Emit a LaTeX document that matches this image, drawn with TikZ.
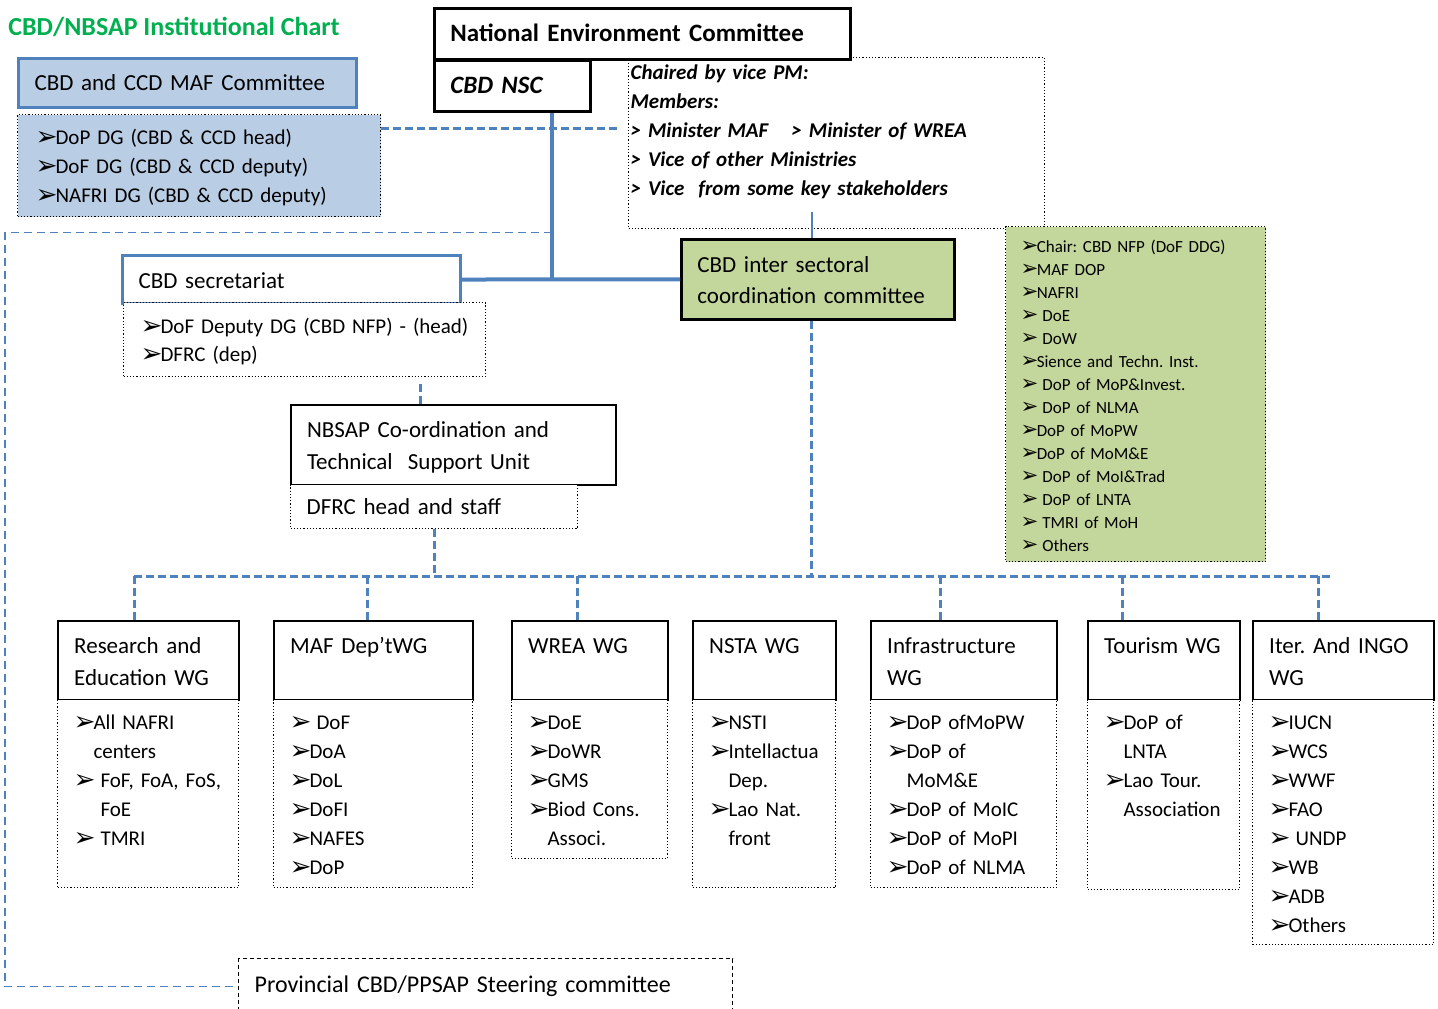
\documentclass[tikz,border=0pt]{standalone}
\usepackage{fontspec}
\setmainfont{Carlito}
\newfontfamily\arrfont{DejaVu Sans}
\usepackage{graphicx}
\usetikzlibrary{calc}
\definecolor{blueline}{RGB}{79,129,189}
\definecolor{lightblue}{RGB}{185,205,229}
\definecolor{lightgreen}{RGB}{195,214,155}
\definecolor{titlegreen}{RGB}{0,176,80}
\frenchspacing
\newcommand\mainfs{\fontsize{11.5}{16}\selectfont}
\newcommand\midfs{\fontsize{11}{14.5}\selectfont}
\newcommand\listfs{\fontsize{10.5}{14.5}\selectfont}
\newcommand\smallfs{\fontsize{8.5}{11.5}\selectfont}
\newcommand\bul{\makebox[0.95em][l]{\arrfont\raisebox{-0.05em}{\scalebox{1.25}{➢}}}}
\newcommand\cnt{\hspace*{0.95em}}
\tikzset{
  hdr/.style={anchor=north west, align=left, inner ysep=0pt, inner xsep=8pt, font=\mainfs},
  thickbox/.style={draw=black, line width=1.4pt, fill=white},
  lstbox/.style={anchor=north west, align=left, inner ysep=0pt, inner xsep=8pt, draw=black, densely dotted, line width=0.6pt, fill=white},
  wghead/.style={hdr, thickbox, line width=1.2pt, text height=16pt, text depth=23.5pt},
  wglist/.style={lstbox, font=\listfs, text height=15pt, text depth=79pt},
  mainline/.style={draw=blueline, line width=2pt},
  busline/.style={draw=blueline, line width=1.5pt, dash pattern=on 4pt off 2pt},
  loopline/.style={draw=blueline, line width=0.6pt, dash pattern=on 4pt off 2.5pt},
  linkline/.style={draw=blueline, line width=1pt}
}
\begin{document}
\begin{tikzpicture}[x=0.5pt, y=-0.5pt]
  \useasboundingbox (0,0) rectangle (1438,1008);

  % top left
  \node[anchor=west, inner sep=0pt, text=titlegreen, font=\fontsize{13}{15}\selectfont\bfseries] (title) at (8,27) {CBD/NBSAP Institutional Chart};
  \node[hdr, draw=blueline, line width=1.5pt, fill=lightblue, text width=153pt, text height=16pt, text depth=8.5pt] (mafcom) at (17,57) {CBD and CCD MAF Committee};
  \node[lstbox, fill=lightblue, font=\fontsize{10.5}{14.5}\selectfont, inner xsep=9pt, text width=163.5pt, text height=15pt, text depth=36pt] (maflist) at (17,114) {\bul DoP DG (CBD \& CCD head)\\\bul DoF DG (CBD \& CCD deputy)\\\bul NAFRI DG (CBD \& CCD deputy)};

  % national level
  \node[lstbox, font=\fontsize{10.5}{14.5}\selectfont\bfseries\itshape, inner xsep=1pt, text width=206pt, text height=11pt, text depth=74.5pt] (members) at (628,57) {Chaired by vice PM:\\Members:\\> Minister MAF\hspace{1.1em}> Minister of WREA\\> Vice of other Ministries\\> Vice\ \ from some key stakeholders};
  \node[hdr, thickbox, font=\fontsize{12.5}{16}\selectfont\bfseries, text width=192pt, text height=16.5pt, text depth=9pt] (nec) at (433,7) {National Environment Committee};
  \node[hdr, thickbox, font=\fontsize{12.5}{16}\selectfont\bfseries\itshape, text width=62pt, text height=16.5pt, text depth=9pt] (nsc) at (433,59) {CBD NSC};

  % secretariat and coordination
  \node[hdr, draw=blueline, line width=1.5pt, fill=white, text width=153pt, text height=16.5pt, text depth=7.5pt] (sec) at (121,254) {CBD secretariat};
  \node[lstbox, font=\fontsize{10.5}{14}\selectfont, inner xsep=8.5pt, text width=164pt, text height=15.5pt, text depth=21.5pt] (seclist) at (123,302) {\bul DoF Deputy DG (CBD NFP) - (head)\\\bul DFRC (dep)};
  \node[hdr, thickbox, fill=lightgreen, font=\fontsize{11.5}{15.5}\selectfont, text width=120.5pt, text height=16.5pt, text depth=23.5pt] (isc) at (680,238) {CBD inter sectoral\\coordination committee};
  \node[lstbox, fill=lightgreen, font=\smallfs, inner xsep=7.5pt, text width=115pt, text height=12.75pt, text depth=154.75pt] (isclist) at (1005,226) {\bul Chair: CBD NFP (DoF DDG)\\\bul MAF DOP\\\bul NAFRI\\\bul\ DoE\\\bul\ DoW\\\bul Sience and Techn. Inst.\\\bul\ DoP of MoP\&Invest.\\\bul\ DoP of NLMA\\\bul DoP of MoPW\\\bul DoP of MoM\&E\\\bul\ DoP of MoI\&Trad\\\bul\ DoP of LNTA\\\bul\ TMRI of MoH\\\bul\ Others};
  \node[hdr, draw=black, line width=1pt, fill=white, text width=146.5pt, text height=16pt, text depth=24pt] (nbsap) at (290,404) {NBSAP Co-ordination and\\Technical\ \ Support Unit};
  \node[lstbox, font=\mainfs, text width=127.5pt, text height=15pt, text depth=7pt] (dfrc) at (290,484) {DFRC head and staff};

  % working groups
  \node[wghead, text width=74.5pt] (res) at (57,620) {Research and\\Education WG};
  \node[wglist, text width=74.5pt] (reslist) at (57,699) {\bul All NAFRI\\\cnt centers\\\bul\ FoF, FoA, FoS,\\\cnt\ FoE\\\bul\ TMRI};
  \node[wghead, text width=83.5pt] (mafwg) at (273,620) {MAF Dep’tWG};
  \node[wglist, text width=83.5pt] (mafwglist) at (273,699) {\bul\ DoF\\\bul DoA\\\bul DoL\\\bul DoFI\\\bul NAFES\\\bul DoP};
  \node[wghead, text width=62pt] (wrea) at (511,620) {WREA WG};
  \node[wglist, text width=62pt, text depth=64.5pt] (wrealist) at (511,699) {\bul DoE\\\bul DoWR\\\bul GMS\\\bul Biod Cons.\\\cnt Associ.};
  \node[wghead, text width=55.5pt] (nsta) at (692,620) {NSTA WG};
  \node[wglist, text width=55.5pt] (nstalist) at (692,699) {\bul NSTI\\\bul Intellactua\\\cnt Dep.\\\bul Lao Nat.\\\cnt front};
  \node[wghead, text width=77pt] (infra) at (870,620) {Infrastructure\\WG};
  \node[wglist, text width=77pt] (infralist) at (870,699) {\bul DoP ofMoPW\\\bul DoP of\\\cnt MoM\&E\\\bul DoP of MoIC\\\bul DoP of MoPI\\\bul DoP of NLMA};
  \node[wghead, text width=60pt] (tour) at (1087,620) {Tourism WG};
  \node[wglist, text width=60pt, text depth=80pt] (tourlist) at (1087,699) {\bul DoP of\\\cnt LNTA\\\bul Lao Tour.\\\cnt Association};
  \node[wghead, text width=74.5pt] (iter) at (1252,620) {Iter. And INGO\\WG};
  \node[wglist, text width=74.5pt, text depth=107.5pt] (iterlist) at (1252,699) {\bul IUCN\\\bul WCS\\\bul WWF\\\bul FAO\\\bul\ UNDP\\\bul WB\\\bul ADB\\\bul Others};

  % provincial level
  \node[hdr, draw=black, line width=0.6pt, dash pattern=on 2pt off 1.5pt, fill=white, font=\fontsize{12}{16}\selectfont, text width=231pt, text height=17pt, text depth=11pt] (prov) at (238,958) {Provincial CBD/PPSAP Steering committee};

  % connectors
  \coordinate (trunk) at ($(nsc.south west)!0.75!(nsc.south east)$);
  \draw[mainline] (trunk) -- (trunk |- sec.east);
  \draw[mainline] (sec.east) -- (isc.west);
  \coordinate (mafout) at ($(maflist.north east)+(0,14)$);
  \draw[busline] (mafout) -- ($(members.west |- mafout)+(-10,0)$);
  \coordinate (isctop) at ($(isc.north)+(-6,0)$);
  \draw[linkline] (isctop) -- ++(0,-26);
  \coordinate (loopstart) at ($(trunk)+(0,120)$);
  \coordinate (leftedge) at (5,0);
  \draw[loopline] (loopstart) -- (loopstart -| leftedge) |- (prov.west);
  \coordinate (nbtop) at ($(nbsap.north west)!0.4!(nbsap.north east)$);
  \draw[busline] (nbtop) -- ($(nbtop |- seclist.south)+(0,4)$);

  % bus to working groups
  \coordinate (busL) at (134,576);
  \coordinate (busR) at (1330,576);
  \draw[busline] (busL) -- (busR);
  \draw[busline] (dfrc.south) -- (dfrc.south |- busL);
  \coordinate (iscbot) at ($(isc.south)+(-6,0)$);
  \draw[busline] (iscbot) -- (iscbot |- busL);
  \foreach \wg/\f in {res/0.425, mafwg/0.47, wrea/0.42, infra/0.376, tour/0.23, iter/0.36}
    \draw[busline] ($(\wg.north west)!\f!(\wg.north east)$) coordinate (drop) -- (drop |- busL);
\end{tikzpicture}
\end{document}
